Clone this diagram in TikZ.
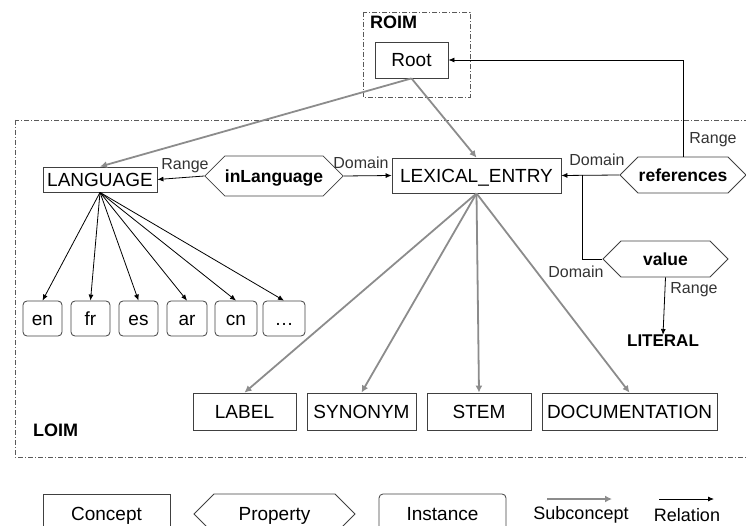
\documentclass[tikz,border=0pt]{standalone}
\usepackage{fontspec}
\setmainfont{Liberation Sans}
\usetikzlibrary{shapes.symbols,arrows.meta}
\definecolor{subgray}{HTML}{8C8C8C}
\definecolor{edgegray}{HTML}{404040}
\begin{document}
\begin{tikzpicture}[x=1pt,y=-1pt,
  every node/.style={font=\fontsize{19}{22}\selectfont, inner sep=0pt},
  capcentred/.style={text height=13.6pt, text depth=0pt},
  concept/.style={draw=edgegray, line width=0.8pt, rectangle, capcentred},
  inst/.style={draw=edgegray, line width=0.8pt, rectangle, rounded corners=4pt,
    minimum height=35pt, capcentred},
  prop/.style={draw=edgegray, line width=0.8pt, signal, signal to=east and west,
    signal pointer angle=90, font=\bfseries\fontsize{17.5}{20}\selectfont,
    text height=12.5pt, text depth=0pt},
  rel/.style={draw=black, line width=0.8pt, -{Latex[length=6pt,width=5pt]}},
  sub/.style={draw=subgray, line width=1.8pt, -{Latex[length=7pt,width=7pt]}},
  lbl/.style={text=black!80, font=\fontsize{16}{18}\selectfont},
  legendtext/.style={font=\fontsize{18}{20}\selectfont},
  area/.style={draw=black!65, line width=0.8pt, dash pattern=on 5pt off 2pt on 1pt off 2pt},
  areatitle/.style={font=\bfseries\fontsize{18}{20}\selectfont, anchor=north west}
]
\useasboundingbox (0,0) rectangle (746,526);
\clip (0,0) rectangle (746,526);

% model areas
\draw[area] (363,12) rectangle (470,97);
\node[areatitle] (roimtitle) at (370,16) {ROIM};
\draw[area] (15,120) rectangle (770,457);
\node[areatitle] (loimtitle) at (33,424) {LOIM};

% concepts
\node[concept, minimum width=73pt, minimum height=36pt] (root) at (411.5,60) {Root};
\node[concept, minimum width=114pt, minimum height=25pt] (lang) at (100,179.5) {LANGUAGE};
\node[concept, minimum width=169pt, minimum height=35pt] (lex) at (476.5,175.5) {LEXICAL\_ENTRY};
\node[concept, minimum width=103pt, minimum height=37pt] (label) at (244.5,411.5) {LABEL};
\node[concept, minimum width=109pt, minimum height=37pt] (syn) at (361.5,411.5) {SYNONYM};
\node[concept, minimum width=104pt, minimum height=37pt] (stem) at (479,411.5) {STEM};
\node[concept, minimum width=175pt, minimum height=37pt] (doc) at (629.5,411.5) {DOCUMENTATION};
\node[font=\bfseries\fontsize{17}{20}\selectfont] (lit) at (663,341) {LITERAL};

% properties
\node[prop, minimum width=138pt, minimum height=40pt] (inl) at (274,176) {inLanguage};
\node[prop, minimum width=126pt, minimum height=36pt] (ref) at (683,175) {references};
\node[prop, minimum width=125pt, minimum height=36pt] (val) at (665.5,259) {value};

% language instances
\node[inst, minimum width=39pt] (en) at (42.5,318.5) {en};
\node[inst, minimum width=39pt] (fr) at (90.5,318.5) {fr};
\node[inst, minimum width=39pt] (es) at (138.5,318.5) {es};
\node[inst, minimum width=40pt] (ar) at (187,318.5) {ar};
\node[inst, minimum width=42pt] (cn) at (236,318.5) {cn};
\node[inst, minimum width=42pt] (more) at (284,318.5) {\dots};

% subconcept links
\draw[sub] (root.south) -- (lang.north);
\draw[sub] (root.south) -- (lex.north);
\foreach \t in {label,syn,stem,doc} \draw[sub] (lex.south) -- (\t.north);

% relations
\draw[rel] (inl.west) -- (lang.east);
\draw[rel] (inl.east) -- (lex.west);
\draw[rel] (ref.west) -- (lex.east);
\draw[rel] (ref.north) |- (root.east);
\coordinate (branch) at (582,175.5);
\draw[line width=0.8pt] (branch) |- (val.west);
\draw[rel] (val.south) -- (lit.north);
\foreach \t in {en,fr,es,ar,cn,more} \draw[rel] (lang.south) -- (\t.north);

% relation labels
\node[lbl] (r1) at (185,166) {Range};
\node[lbl] (d1) at (361,163) {Domain};
\node[lbl] (d2) at (597,160) {Domain};
\node[lbl] (r2) at (713,140) {Range};
\node[lbl] (d3) at (576,272) {Domain};
\node[lbl] (r3) at (694,290) {Range};

% legend
\node[concept, minimum width=127pt, minimum height=40pt] (lgc) at (106.5,514) {Concept};
\node[prop, minimum width=161pt, minimum height=40pt, font=\fontsize{19}{22}\selectfont,
  text height=13.6pt] (lgp) at (274.5,514) {Property};
\node[inst, minimum width=127pt, minimum height=40pt] (lgi) at (442.5,514) {Instance};
\coordinate (sa) at (547,499);
\coordinate (sb) at (612,499);
\draw[sub] (sa) -- (sb);
\node[legendtext] (lgs) at (581,515) {Subconcept};
\coordinate (ra) at (659,499);
\coordinate (rb) at (714,499);
\draw[rel] (ra) -- (rb);
\node[legendtext] (lgr) at (687,515) {Relation};
\end{tikzpicture}
\end{document}
